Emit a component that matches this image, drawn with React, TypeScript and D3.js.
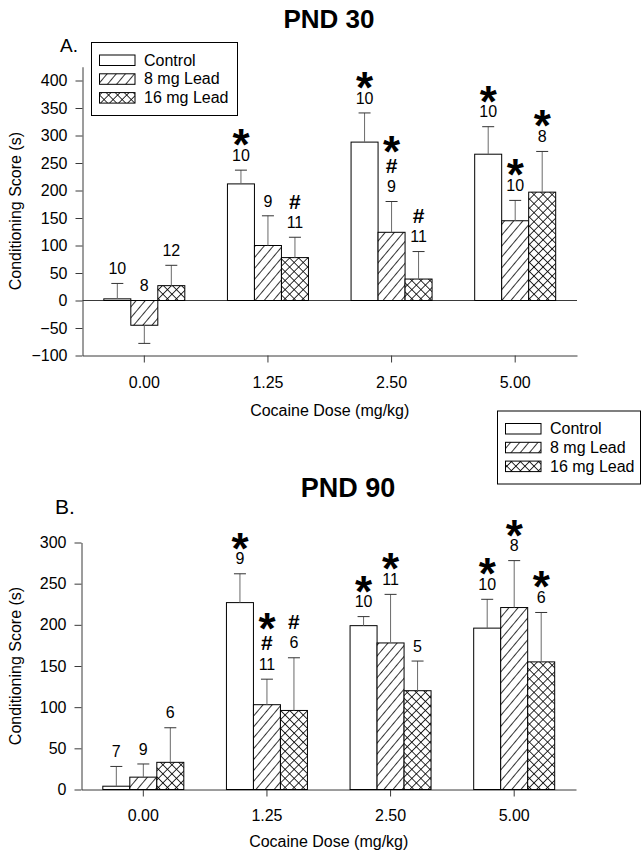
import React, { useRef, useEffect } from "react";
import * as d3 from "d3";

// categories and groups
const doses = ["0.00", "1.25", "2.50", "5.00"];
const groups = ["Control", "8 mg Lead", "16 mg Lead"];

// PND 30 (panel A)
const pnd30Control = [3, 212, 288, 266];
const pnd30Lead8 = [-45, 100, 124, 145];
const pnd30Lead16 = [27, 78, 39, 197];
const pnd30ControlErr = [28, 25, 53, 50];
const pnd30Lead8Err = [33, 54, 56, 37];
const pnd30Lead16Err = [37, 37, 50, 74];
const pnd30ControlMarks = [["10"], ["10", "*"], ["10", "*"], ["10", "*"]];
const pnd30Lead8Marks = [["8"], ["9"], ["9", "#", "*"], ["10", "*"]];
const pnd30Lead16Marks = [["12"], ["11", "#"], ["11", "#"], ["8", "*"]];
const pnd30Ticks = [-100, -50, 0, 50, 100, 150, 200, 250, 300, 350, 400];

// PND 90 (panel B)
const pnd90Control = [4, 227, 199, 196];
const pnd90Lead8 = [15, 103, 178, 221];
const pnd90Lead16 = [33, 96, 120, 155];
const pnd90ControlErr = [24, 35, 11, 35];
const pnd90Lead8Err = [16, 31, 59, 57];
const pnd90Lead16Err = [42, 64, 36, 60];
const pnd90ControlMarks = [["7"], ["9", "*"], ["10", "*"], ["10", "*"]];
const pnd90Lead8Marks = [["9"], ["11", "#", "*"], ["11", "*"], ["8", "*"]];
const pnd90Lead16Marks = [["6"], ["6", "#"], ["5"], ["6", "*"]];
const pnd90Ticks = [0, 50, 100, 150, 200, 250, 300];

const FONT = "'Liberation Sans', Arial, Helvetica, sans-serif";
const fills = ["#fff", "url(#hatch)", "url(#cross)"];
const AXIS = "#3a3a3a";

type Panel = {
  title: string; titleX: number; titleY: number; titleSize: number;
  letter: string; letterX: number; letterY: number; letterSize: number;
  yDomain: [number, number]; yRange: [number, number]; ticks: number[];
  xRange: [number, number]; labelPad: number; xLabelY: number;
  values: number[][]; errs: number[][]; marks: string[][][];
  legendX: number; legendY: number; legendW: number; zeroLine: boolean;
};

const panels: Panel[] = [
  {
    title: "PND 30", titleX: 329, titleY: 28, titleSize: 26,
    letter: "A.", letterX: 60, letterY: 51.5, letterSize: 19,
    yDomain: [-100, 425], yRange: [355.5, 66.75], ticks: pnd30Ticks,
    xRange: [82.5, 577], labelPad: 14, xLabelY: 416,
    values: [pnd30Control, pnd30Lead8, pnd30Lead16],
    errs: [pnd30ControlErr, pnd30Lead8Err, pnd30Lead16Err],
    marks: [pnd30ControlMarks, pnd30Lead8Marks, pnd30Lead16Marks],
    legendX: 91.5, legendY: 42.5, legendW: 146, zeroLine: true,
  },
  {
    title: "PND 90", titleX: 348, titleY: 497, titleSize: 27,
    letter: "B.", letterX: 55, letterY: 514, letterSize: 21,
    yDomain: [0, 300], yRange: [789.5, 542.5], ticks: pnd90Ticks,
    xRange: [81.5, 576], labelPad: 13, xLabelY: 847,
    values: [pnd90Control, pnd90Lead8, pnd90Lead16],
    errs: [pnd90ControlErr, pnd90Lead8Err, pnd90Lead16Err],
    marks: [pnd90ControlMarks, pnd90Lead8Marks, pnd90Lead16Marks],
    legendX: 497.5, legendY: 411, legendW: 143, zeroLine: false,
  },
];

const drawPanel = (svg: any, p: Panel) => {
  const g = svg.append("g");
  const x = d3.scaleBand().domain(doses).range(p.xRange);
  const inner = d3.scaleBand().domain(groups).range([0, 81]);
  const y = d3.scaleLinear().domain(p.yDomain).range(p.yRange);

  // title + panel letter
  g.append("text").attr("x", p.titleX).attr("y", p.titleY)
    .attr("text-anchor", "middle").attr("font-weight", "bold")
    .attr("font-size", p.titleSize).text(p.title);
  g.append("text").attr("x", p.letterX).attr("y", p.letterY)
    .attr("font-size", p.letterSize).text(p.letter);

  // axes
  const ya = g.append("g")
    .attr("transform", `translate(${p.xRange[0]},0)`)
    .call(d3.axisLeft(y).tickValues(p.ticks).tickSize(7).tickSizeOuter(0).tickPadding(8));
  ya.selectAll("text").attr("font-size", 16).attr("font-family", FONT).attr("fill", "#000");
  ya.selectAll("line,path").attr("stroke", AXIS);

  const xa = g.append("g")
    .attr("transform", `translate(0,${y(p.yDomain[0])})`)
    .call(d3.axisBottom(x).tickSize(7).tickSizeOuter(0).tickPadding(p.labelPad));
  xa.selectAll("text").attr("font-size", 16).attr("font-family", FONT).attr("fill", "#000");
  xa.selectAll("line,path").attr("stroke", AXIS);

  if (p.zeroLine) {
    g.append("line").attr("x1", p.xRange[0]).attr("x2", p.xRange[1])
      .attr("y1", y(0)).attr("y2", y(0)).attr("stroke", AXIS);
  }

  // axis titles
  g.append("text")
    .attr("transform", `translate(21,${(p.yRange[0] + p.yRange[1]) / 2}) rotate(-90)`)
    .attr("text-anchor", "middle").attr("font-size", 16)
    .text("Conditioning Score (s)");
  g.append("text").attr("x", (p.xRange[0] + p.xRange[1]) / 2).attr("y", p.xLabelY)
    .attr("text-anchor", "middle").attr("font-size", 16)
    .text("Cocaine Dose (mg/kg)");

  // bars, error bars, annotations
  groups.forEach((grp, gi) => {
    doses.forEach((dose, di) => {
      const v = p.values[gi][di];
      const e = p.errs[gi][di];
      const bx = (x(dose) as number) + x.bandwidth() / 2 - 40.5 + (inner(grp) as number);
      const bw = inner.bandwidth();
      const cx = bx + bw / 2;
      g.append("rect")
        .attr("x", bx).attr("width", bw)
        .attr("y", y(Math.max(v, 0))).attr("height", Math.abs(y(v) - y(0)))
        .attr("fill", fills[gi]).attr("stroke", "#000").attr("stroke-width", 1);

      const end = v >= 0 ? v + e : v - e;
      g.append("line").attr("x1", cx).attr("x2", cx)
        .attr("y1", y(v)).attr("y2", y(end)).attr("stroke", "#6a6a6a");
      g.append("line").attr("x1", cx - 6).attr("x2", cx + 6)
        .attr("y1", y(end)).attr("y2", y(end)).attr("stroke", "#333");

      const marks = p.marks[gi][di];
      let cy = y(v >= 0 ? end : 0) - 15;
      marks.forEach((m, i) => {
        if (i > 0) cy -= m === "*" && marks[i - 1] === "#" ? 24 : m === "#" ? 21 : 20;
        const t = g.append("text").attr("x", cx).attr("text-anchor", "middle").text(m);
        if (m === "*") {
          t.attr("y", cy + 25).attr("font-size", 44).attr("font-weight", "bold");
        } else if (m === "#") {
          t.attr("y", cy + 7.3).attr("font-size", 21).attr("font-weight", "bold");
        } else {
          t.attr("y", cy + 5.7).attr("font-size", 16);
        }
      });
    });
  });

  // legend
  const lg = g.append("g");
  lg.append("rect").attr("x", p.legendX).attr("y", p.legendY)
    .attr("width", p.legendW).attr("height", 73)
    .attr("fill", "#fff").attr("stroke", "#000");
  groups.forEach((grp, gi) => {
    const ry = p.legendY + 12.5 + gi * 18.8;
    lg.append("rect").attr("x", p.legendX + 8).attr("y", ry)
      .attr("width", 35.5).attr("height", 10.5)
      .attr("fill", fills[gi]).attr("stroke", "#000");
    lg.append("text").attr("x", p.legendX + 52.5).attr("y", ry + 10.5)
      .attr("font-size", 16).text(grp);
  });
};

const App = () => {
  const svgRef = useRef<SVGSVGElement>(null);

  useEffect(() => {
    const svg = d3.select(svgRef.current);
    svg.selectAll("*").remove();
    svg.attr("font-family", FONT);

    const defs = svg.append("defs");
    const hatch = defs.append("pattern").attr("id", "hatch")
      .attr("patternUnits", "userSpaceOnUse").attr("width", 7).attr("height", 10)
      .attr("patternTransform", "rotate(40)");
    hatch.append("rect").attr("width", 7).attr("height", 10).attr("fill", "#fff");
    hatch.append("line").attr("x1", 3.5).attr("x2", 3.5).attr("y1", 0).attr("y2", 10)
      .attr("stroke", "#000").attr("stroke-width", 0.8);

    const cross = defs.append("pattern").attr("id", "cross")
      .attr("patternUnits", "userSpaceOnUse").attr("width", 6.4).attr("height", 6.4)
      .attr("patternTransform", "rotate(45)");
    cross.append("rect").attr("width", 6.4).attr("height", 6.4).attr("fill", "#fff");
    cross.append("line").attr("x1", 3.2).attr("x2", 3.2).attr("y1", 0).attr("y2", 6.4)
      .attr("stroke", "#000").attr("stroke-width", 0.8);
    cross.append("line").attr("y1", 3.2).attr("y2", 3.2).attr("x1", 0).attr("x2", 6.4)
      .attr("stroke", "#000").attr("stroke-width", 0.8);

    panels.forEach(p => drawPanel(svg, p));
  }, []);

  return (
    <svg ref={svgRef} width={641} height={851}
      style={{ position: "absolute", left: 0, top: 0, background: "#fff" }} />
  );
};

export default App;
